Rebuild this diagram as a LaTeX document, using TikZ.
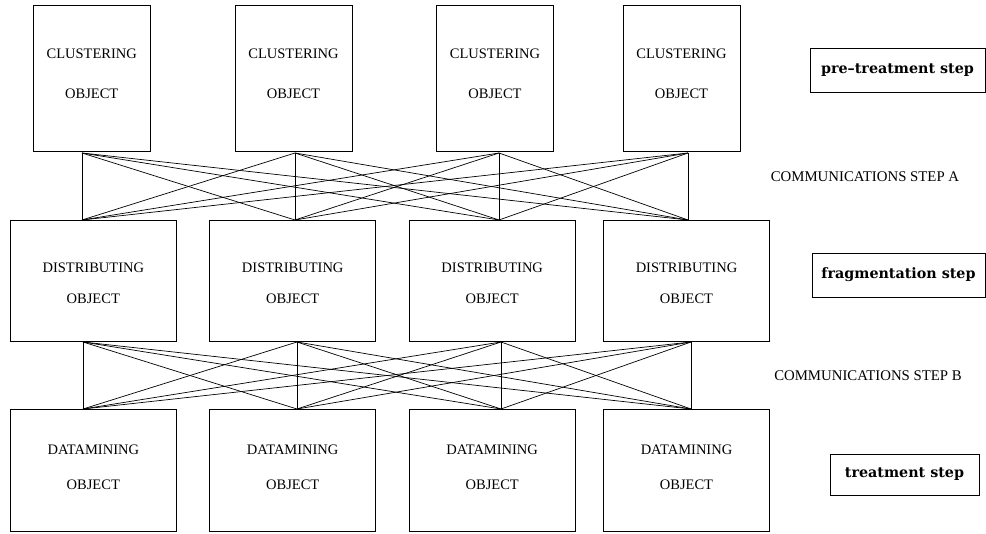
\documentclass[tikz,border=0pt]{standalone}
\usepackage{fontspec}
\setmainfont{Liberation Serif}
\newfontfamily\stepfont[Ligatures=TeX]{DejaVu Serif}
\usetikzlibrary{positioning}
\tikzset{
    object/.style={draw,line width=0.8pt,inner sep=0pt,outer sep=0pt},
    objtext/.style={align=center,inner sep=0pt,font=\fontsize{14.5}{17}\selectfont},
    cluster/.style={object,minimum width=117pt,minimum height=146pt},
    distrib/.style={object,minimum width=166pt,minimum height=121pt},
    mining/.style={object,minimum width=166pt,minimum height=122pt},
    stepbox/.style={draw,line width=0.8pt,inner sep=0pt,font=\stepfont\bfseries\fontsize{14.3}{17}\selectfont},
    comm/.style={font=\fontsize{14.8}{17}\selectfont,inner sep=0pt},
}

\begin{document}
\begin{tikzpicture}[x=1pt,y=-1pt,link/.style={line width=0.7pt}]
		\useasboundingbox (0,0) rectangle (986,534);
		
		% clustering objects
		\node[cluster,label={[objtext,yshift=4pt]center:CLUSTERING\\[23pt]OBJECT}] (c1) at (91.7,78) {};
		\node[cluster,label={[objtext,yshift=4pt]center:CLUSTERING\\[23pt]OBJECT}] (c2) at (293.5,78) {};
		\node[cluster,label={[objtext,yshift=4pt]center:CLUSTERING\\[23pt]OBJECT}] (c3) at (495,78) {};
		\node[cluster,label={[objtext,yshift=4pt]center:CLUSTERING\\[23pt]OBJECT}] (c4) at (681.5,78) {};
		
		% distributing objects
		\node[distrib,label={[objtext,yshift=-3pt]center:DISTRIBUTING\\[14pt]OBJECT}] (d1) at (93.3,280.5) {};
		\node[distrib,label={[objtext,yshift=-3pt]center:DISTRIBUTING\\[14pt]OBJECT}] (d2) at (292.7,280.5) {};
		\node[distrib,label={[objtext,yshift=-3pt]center:DISTRIBUTING\\[14pt]OBJECT}] (d3) at (492.2,280.5) {};
		\node[distrib,label={[objtext,yshift=-3pt]center:DISTRIBUTING\\[14pt]OBJECT}] (d4) at (686.5,280.5) {};
		
		% datamining objects
		\node[mining,label={[objtext,yshift=3pt]center:DATAMINING\\[18pt]OBJECT}] (m1) at (93.3,470) {};
		\node[mining,label={[objtext,yshift=3pt]center:DATAMINING\\[18pt]OBJECT}] (m2) at (292.7,470) {};
		\node[mining,label={[objtext,yshift=3pt]center:DATAMINING\\[18pt]OBJECT}] (m3) at (492.2,470) {};
		\node[mining,label={[objtext,yshift=3pt]center:DATAMINING\\[18pt]OBJECT}] (m4) at (686.5,470) {};
		
		% step labels
		\node[stepbox,minimum width=175pt,minimum height=44pt] (pre) at (897.5,70) {pre–treatment step};
		\node[stepbox,minimum width=173pt,minimum height=44pt] (frag) at (898.5,275) {fragmentation step};
		\node[stepbox,minimum width=149pt,minimum height=41pt] (treat) at (904.5,474.5) {treatment step};
		\node[comm] (stepA) at (865,177) {COMMUNICATIONS STEP A};
		\node[comm] (stepB) at (868,376) {COMMUNICATIONS STEP B};
		
		% link points
		\coordinate (c1b) at (82,153);
		\coordinate (c2b) at (295,153);
		\coordinate (c3b) at (499,153);
		\coordinate (c4b) at (688,153);
		\coordinate (d1t) at (82,220);
		\coordinate (d2t) at (295,220);
		\coordinate (d3t) at (499,220);
		\coordinate (d4t) at (688,220);
		\coordinate (d1b) at (83,342);
		\coordinate (d2b) at (297,342);
		\coordinate (d3b) at (501,342);
		\coordinate (d4b) at (691,342);
		\coordinate (m1t) at (83,409);
		\coordinate (m2t) at (297,409);
		\coordinate (m3t) at (501,409);
		\coordinate (m4t) at (691,409);
		
		% communications step A
		\path[link]
		(c1b) edge (d1t) edge (d2t) edge (d3t) edge (d4t)
		(c2b) edge (d1t) edge (d2t) edge (d3t) edge (d4t)
		(c3b) edge (d1t) edge (d2t) edge (d3t) edge (d4t)
		(c4b) edge (d1t) edge (d2t) edge (d3t) edge (d4t);
		
		% communications step B
		\path[link]
		(d1b) edge (m1t) edge (m2t) edge (m3t) edge (m4t)
		(d2b) edge (m1t) edge (m2t) edge (m3t) edge (m4t)
		(d3b) edge (m1t) edge (m2t) edge (m3t) edge (m4t)
		(d4b) edge (m1t) edge (m2t) edge (m3t) edge (m4t);
		\end{tikzpicture}
\end{document}
